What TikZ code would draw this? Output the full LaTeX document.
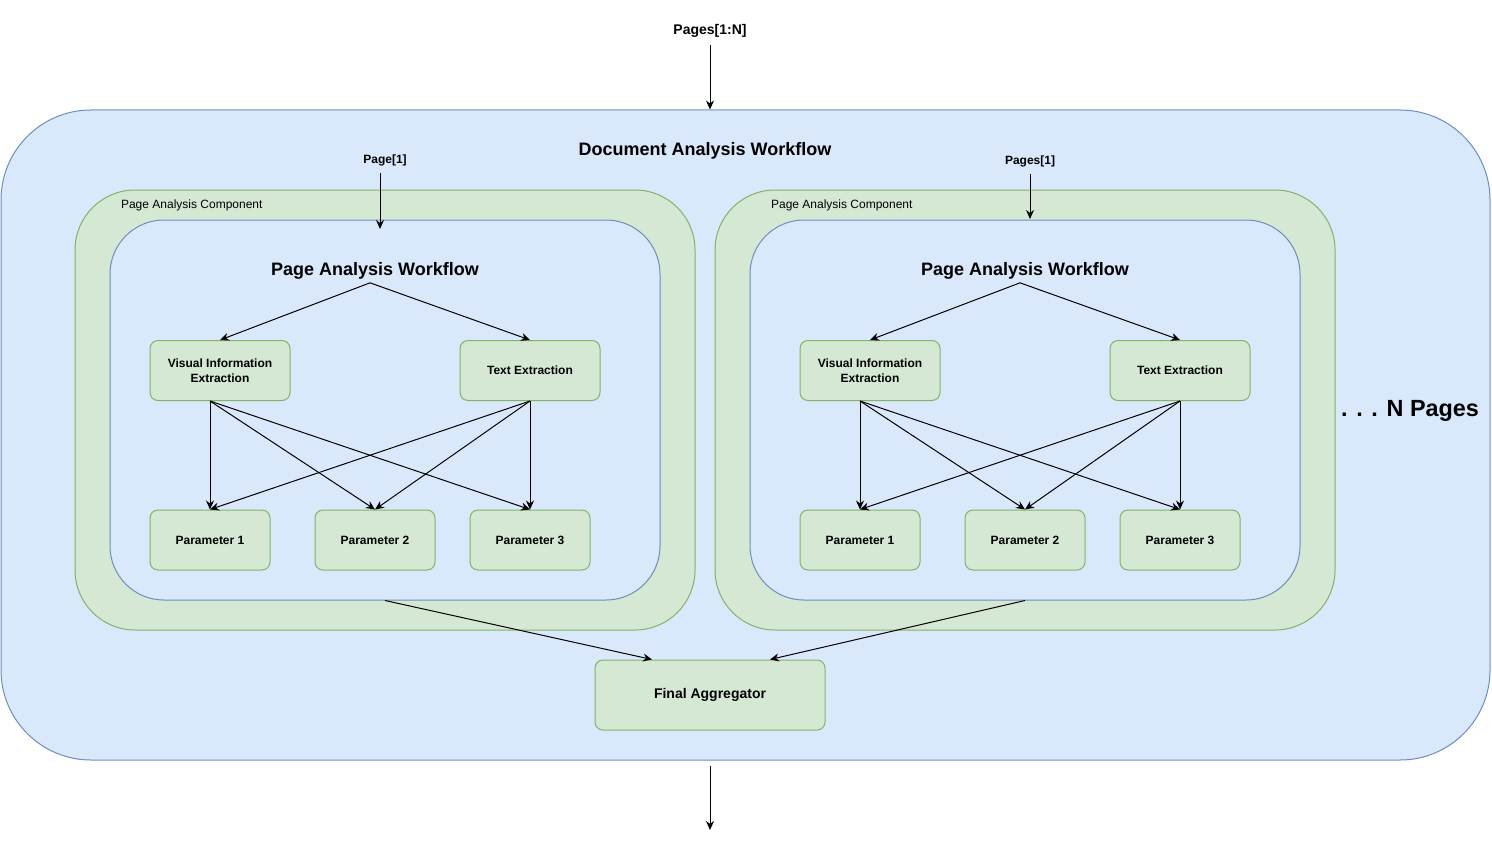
\documentclass[tikz,border=0pt]{standalone}
\usepackage{fontspec}
\setmainfont{Liberation Sans}
\usetikzlibrary{arrows.meta, positioning}
\definecolor{docbg}{HTML}{DAE8FC}
\definecolor{docline}{HTML}{6C8EBF}
\definecolor{stepbg}{HTML}{D5E8D4}
\definecolor{stepline}{HTML}{82B366}

\begin{document}
\begin{tikzpicture}[x=0.5pt, y=-0.5pt,
    docframe/.style={rectangle, draw=docline, fill=docbg, line width=0.5pt},
    compbox/.style={rectangle, rounded corners=30pt, draw=stepline, fill=stepbg, minimum width=310pt, minimum height=220pt, line width=0.5pt},
    wfbox/.style={docframe, rounded corners=27pt, minimum width=275pt, minimum height=190pt},
    box/.style={rectangle, rounded corners=4pt, draw=stepline, fill=stepbg, minimum width=60pt, minimum height=30pt, align=center, font=\fontsize{6}{7.5}\selectfont\bfseries, line width=0.5pt},
    wftitle/.style={font=\fontsize{9}{11}\selectfont\bfseries, inner sep=1.5pt},
    lbl/.style={font=\fontsize{6}{7}\selectfont\bfseries},
    arrow/.style={-{Stealth[length=4.5pt, width=4pt]}, line width=0.5pt}
]
\useasboundingbox (0,0) rectangle (1492,840);

% outer workflow
\node[docframe, rounded corners=45pt, minimum width=744.5pt, minimum height=325pt] (doc) at (745.5,435) {};
\node[wftitle] (doctitle) at (705,151) {Document Analysis Workflow};
\node[lbl, font=\fontsize{7}{8}\selectfont\bfseries] (pages) at (710,31) {Pages[1:N]};
\node[font=\fontsize{11.7}{14}\selectfont\bfseries] (npages) at (1410,411) {. . . N Pages};

% first page
\node[compbox] (comp1) at (385,410) {};
\node[font=\fontsize{6}{7}\selectfont, anchor=west] (comp1lbl) at (114,205) {Page Analysis Component};
\node[wfbox] (wf1) at (385,410) {};
\node[lbl] (page1) at (385,160) {Page[1]};
\coordinate (pin1) at (380,229);
\node[wftitle] (wftitle1) at (375,271) {Page Analysis Workflow};
\node[box, minimum width=70pt] (vie1) at (220,370.5) {Visual Information\\Extraction};
\node[box, minimum width=70pt] (te1) at (530,370.5) {Text Extraction};
\node[box] (par11) at (210,540) {Parameter 1};
\node[box] (par12) at (375,540) {Parameter 2};
\node[box] (par13) at (530,540) {Parameter 3};

% second page
\node[compbox] (comp2) at (1025,410) {};
\node[font=\fontsize{6}{7}\selectfont, anchor=west] (comp2lbl) at (764,205) {Page Analysis Component};
\node[wfbox] (wf2) at (1025,410) {};
\node[lbl] (page2) at (1030,161) {Pages[1]};
\coordinate (pin2) at (1030,219);
\node[wftitle] (wftitle2) at (1025,271) {Page Analysis Workflow};
\node[box, minimum width=70pt] (vie2) at (870,370.5) {Visual Information\\Extraction};
\node[box, minimum width=70pt] (te2) at (1180,370.5) {Text Extraction};
\node[box] (par21) at (860,540) {Parameter 1};
\node[box] (par22) at (1025,540) {Parameter 2};
\node[box] (par23) at (1180,540) {Parameter 3};

\node[box, minimum width=115pt, minimum height=35pt, font=\fontsize{7}{8}\selectfont\bfseries] (fin) at (710,695) {Final Aggregator};
\coordinate (out) at (710,830);

\draw[arrow] (pages.south) -- (pages.south |- doc.north);
\draw[arrow] (pin1 |- page1.south) -- (pin1);
\draw[arrow] (pin2 |- page2.south) -- (pin2);

\draw[arrow] ([xshift=-2.5pt]wftitle1.south) -- (vie1.north);
\draw[arrow] ([xshift=-2.5pt]wftitle1.south) -- (te1.north);
\draw[arrow] ([xshift=-5pt]vie1.south) -- (par11.north);
\draw[arrow] ([xshift=-5pt]vie1.south) -- (par12.north);
\draw[arrow] ([xshift=-5pt]vie1.south) -- (par13.north);
\draw[arrow] (te1.south) -- (par11.north);
\draw[arrow] (te1.south) -- (par12.north);
\draw[arrow] (te1.south) -- (par13.north);

\draw[arrow] ([xshift=-2.5pt]wftitle2.south) -- (vie2.north);
\draw[arrow] ([xshift=-2.5pt]wftitle2.south) -- (te2.north);
\draw[arrow] ([xshift=-5pt]vie2.south) -- (par21.north);
\draw[arrow] ([xshift=-5pt]vie2.south) -- (par22.north);
\draw[arrow] ([xshift=-5pt]vie2.south) -- (par23.north);
\draw[arrow] (te2.south) -- (par21.north);
\draw[arrow] (te2.south) -- (par22.north);
\draw[arrow] (te2.south) -- (par23.north);

\draw[arrow] (wf1.south) -- ([xshift=-29pt]fin.north);
\draw[arrow] (wf2.south) -- ([xshift=30pt]fin.north);
\draw[arrow, shorten <=2.5pt] (fin.south |- doc.south) -- (out);

\end{tikzpicture}
\end{document}
